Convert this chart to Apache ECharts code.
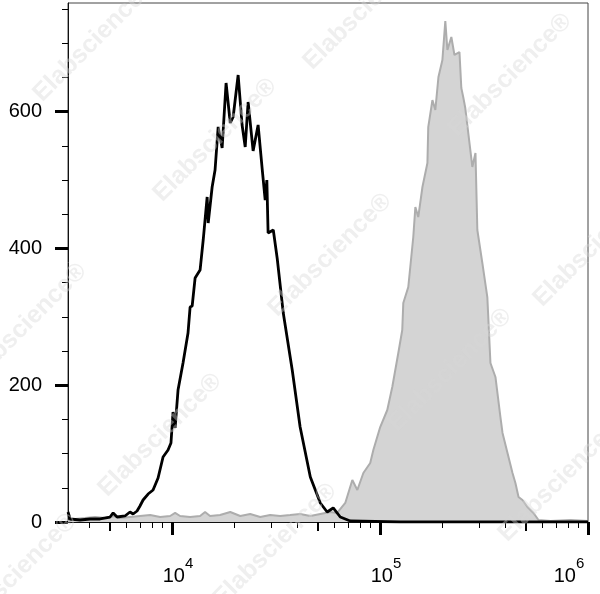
<!DOCTYPE html>
<html><head><meta charset="utf-8">
<script src="https://cdn.jsdelivr.net/npm/echarts@6/dist/echarts.min.js"></script>
<style>html,body{margin:0;padding:0;background:#fff}#c{width:600px;height:594px}</style>
</head><body><div id="c"></div>
<script>
// axis ranges: x in log10(fluorescence) decades
const xMin = 3.5, xMax = 6;
const yMin = 0, yMax = 759;
const xLabelExps = [4, 5, 6];
const yLabelValues = [0, 200, 400, 600];
const yMinorValues = [50, 100, 150, 250, 300, 350, 450, 500, 550, 650, 700, 750];
const xMinorMultipliers = [2, 3, 4, 6, 7, 8, 9];
const xMidMultipliers = [5];

// unstained control (black outline)
const unstainedX = [3.500,3.510,3.558,3.606,3.654,3.702,3.717,3.736,3.774,3.798,3.813,3.832,3.846,3.861,3.885,3.909,3.933,3.957,3.981,3.995,4.005,4.015,4.029,4.053,4.077,4.087,4.097,4.111,4.135,4.150,4.169,4.174,4.193,4.207,4.222,4.241,4.260,4.280,4.294,4.318,4.337,4.352,4.366,4.390,4.414,4.434,4.448,4.456,4.462,4.487,4.506,4.535,4.578,4.616,4.665,4.689,4.713,4.746,4.775,4.809,4.857,5.098,6.000];
const unstainedY = [14.6,4.4,2.9,4.4,4.4,7.3,13.2,7.3,8.8,14.6,11.7,16.1,23.4,32.2,40.9,46.8,64.3,95.1,105.3,115.5,160.8,137.5,193.0,232.5,276.4,314.4,315.9,356.8,368.5,412.4,475.3,437.3,489.9,514.8,577.7,547.0,642.0,583.5,592.3,653.7,580.6,548.5,614.2,542.6,580.6,514.8,470.9,500.1,422.6,427.0,385.0,305.6,222.3,138.9,65.8,46.8,27.8,14.6,20.5,7.3,1.5,0,0];

// stained sample (grey filled)
const stainedX = [3.500,3.534,3.582,3.630,3.678,3.726,3.750,3.798,3.846,3.895,3.943,3.991,4.015,4.039,4.087,4.135,4.159,4.183,4.231,4.280,4.328,4.376,4.424,4.472,4.520,4.568,4.616,4.665,4.713,4.761,4.794,4.833,4.867,4.891,4.920,4.953,4.968,5.001,5.035,5.059,5.088,5.107,5.112,5.136,5.160,5.170,5.184,5.204,5.228,5.232,5.252,5.266,5.281,5.300,5.314,5.324,5.343,5.358,5.382,5.391,5.401,5.410,5.444,5.459,5.468,5.492,5.516,5.531,5.555,5.579,5.589,5.613,5.637,5.651,5.666,5.685,5.709,5.738,5.762,5.820,5.916,6.000];
const stainedY = [1.5,4.4,5.8,7.3,5.8,8.8,5.8,7.3,8.8,10.2,7.3,8.8,13.2,8.8,7.3,8.8,14.6,8.8,10.2,14.6,8.8,11.7,7.3,10.2,8.8,10.2,11.7,8.8,11.7,14.6,13.2,27.8,61.4,46.8,71.7,86.3,105.3,138.9,163.8,197.4,247.1,280.8,320.3,343.7,416.8,460.7,446.0,489.9,525.0,577.6,617.1,602.5,650.8,675.6,732.7,690.3,709.3,683.0,687.3,634.7,620.1,605.4,519.2,539.6,427.0,378.8,329.0,232.5,212.1,153.5,130.2,100.9,71.7,57.0,36.6,32.2,21.9,13.2,2.9,1.5,2.9,1.5];

const watermarkCenters = [[95,40],[215,140],[330,255],[450,370],[560,480],[510,75],[25,325],[160,435],[275,545],[15,575],[595,245],[365,8]];

function ticksFor(mults) {
  const out = [];
  for (let d = 3; d <= 5; d++) {
    mults.forEach(m => {
      const v = d + Math.log10(m);
      if (v > xMin && v < xMax) out.push(v);
    });
  }
  return out;
}
const zip = (xs, ys) => xs.map((x, i) => [x, ys[i]]);

const FONT = "'Liberation Sans', Arial, sans-serif";
const chart = echarts.init(document.getElementById('c'), null, {renderer: 'canvas'});

const hiddenLabel = {show: false};
const baseStyle = {fontSize: 20, fontFamily: FONT, color: '#000', lineHeight: 40};
const supStyle = {fontSize: 15, fontFamily: FONT, color: '#000', lineHeight: 15, verticalAlign: 'top'};
const option = {
  animation: false,
  backgroundColor: '#fff',
  grid: {left: 68, right: 12, top: 3, bottom: 72, show: true, borderColor: '#444', borderWidth: 1,
         backgroundColor: 'transparent', containLabel: false, outerBoundsMode: 'none'},
  xAxis: [
    {
      type: 'value', min: xMin, max: xMax, position: 'bottom',
      axisLine: {show: true, lineStyle: {color: '#111', width: 1}},
      axisTick: {show: true, customValues: xLabelExps, length: 13, lineStyle: {color: '#000', width: 3}},
      axisLabel: {
        show: true, customValues: xLabelExps, margin: 34, hideOverlap: false,
        formatter: v => {
          const e = Math.round(v);
          return e === xMax ? '{be|10}{se|' + e + '}' : '{b|10}{s|' + e + '}';
        },
        rich: {
          b: Object.assign({}, baseStyle, {padding: [0, 0, 0, 12]}),
          s: Object.assign({}, supStyle),
          be: Object.assign({}, baseStyle),
          se: Object.assign({}, supStyle, {padding: [0, 38, 0, 0]})
        }
      },
      splitLine: {show: false}
    },
    {
      type: 'value', min: xMin, max: xMax, position: 'bottom',
      axisLine: {show: false},
      axisTick: {show: true, customValues: ticksFor(xMinorMultipliers), length: 6, lineStyle: {color: '#000', width: 1}},
      axisLabel: hiddenLabel, splitLine: {show: false}
    },
    {
      type: 'value', min: xMin, max: xMax, position: 'bottom',
      axisLine: {show: false},
      axisTick: {show: true, customValues: ticksFor(xMidMultipliers), length: 9, lineStyle: {color: '#000', width: 2}},
      axisLabel: hiddenLabel, splitLine: {show: false}
    }
  ],
  yAxis: [
    {
      type: 'value', min: yMin, max: yMax, position: 'left',
      axisLine: {show: true, lineStyle: {color: '#111', width: 1}},
      axisTick: {show: true, customValues: yLabelValues, length: 13, lineStyle: {color: '#000', width: 3}},
      axisLabel: {show: true, customValues: yLabelValues, margin: 26, fontSize: 20, fontFamily: FONT, color: '#000'},
      splitLine: {show: false}
    },
    {
      type: 'value', min: yMin, max: yMax, position: 'left',
      axisLine: {show: false},
      axisTick: {show: true, customValues: yMinorValues, length: 6, lineStyle: {color: '#000', width: 1}},
      axisLabel: hiddenLabel, splitLine: {show: false}
    }
  ],
  graphic: watermarkCenters.map(c => ({
    type: 'text', x: c[0], y: c[1], rotation: Math.PI / 4, z: 100, silent: true,
    style: {text: 'Elabscience®', fill: 'rgba(215,215,215,0.4)', font: "bold 25px " + FONT, align: 'center', verticalAlign: 'middle'}
  })),
  series: [
    {
      type: 'line', name: 'stained', data: zip(stainedX, stainedY), showSymbol: false, smooth: false,
      lineStyle: {color: '#adadad', width: 2}, areaStyle: {color: '#d4d4d4', opacity: 1}, z: 2
    },
    {
      type: 'line', name: 'unstained', data: zip(unstainedX, unstainedY), showSymbol: false, smooth: false,
      lineStyle: {color: '#000', width: 2.8}, z: 3
    }
  ]
};
chart.setOption(option);
</script>
</body></html>
